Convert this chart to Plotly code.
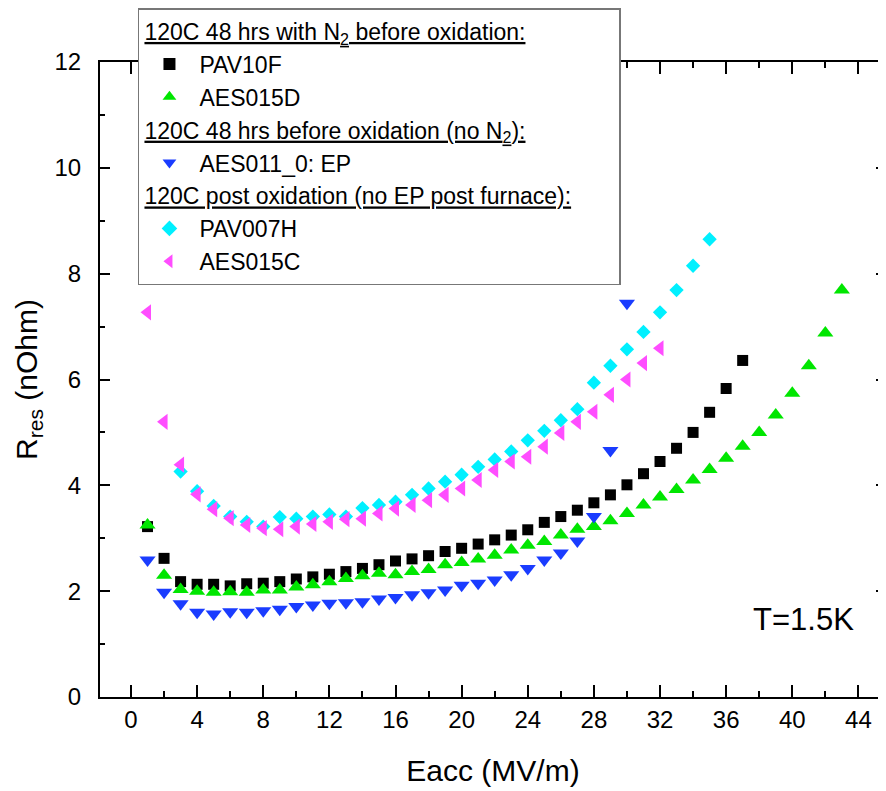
import plotly.graph_objects as go

# ---------------- data ----------------
pav10f_x = list(range(1, 38))
pav10f_y = [3.22, 2.62, 2.18, 2.13, 2.13, 2.10, 2.14, 2.15, 2.18, 2.23,
            2.27, 2.32, 2.37, 2.43, 2.50, 2.57, 2.61, 2.67, 2.75, 2.81,
            2.89, 2.97, 3.06, 3.16, 3.30, 3.41, 3.53, 3.67, 3.82, 4.01,
            4.22, 4.45, 4.70, 5.00, 5.38, 5.83, 6.36]

aes015d_x = list(range(1, 44))
aes015d_y = [3.25, 2.30, 2.03, 2.00, 1.98, 1.99, 1.98, 2.02, 2.02, 2.08,
             2.12, 2.18, 2.24, 2.29, 2.34, 2.31, 2.37, 2.41, 2.50, 2.54,
             2.61, 2.68, 2.78, 2.87, 2.94, 3.06, 3.17, 3.22, 3.33, 3.47,
             3.63, 3.78, 3.92, 4.10, 4.30, 4.51, 4.74, 5.00, 5.33, 5.74,
             6.26, 6.88, 7.69]

aes011_x = list(range(1, 31))
aes011_y = [2.59, 1.98, 1.76, 1.60, 1.57, 1.61, 1.60, 1.63, 1.66, 1.71,
            1.74, 1.77, 1.78, 1.80, 1.85, 1.88, 1.93, 1.97, 2.02, 2.11,
            2.15, 2.21, 2.31, 2.43, 2.59, 2.72, 2.95, 3.41, 4.66, 7.44]

pav007h_x = list(range(3, 36))
pav007h_y = [4.26, 3.89, 3.61, 3.41, 3.31, 3.22, 3.40, 3.37, 3.41, 3.45,
             3.41, 3.57, 3.63, 3.69, 3.82, 3.94, 4.07, 4.20, 4.35, 4.49,
             4.64, 4.85, 5.03, 5.23, 5.44, 5.94, 6.26, 6.57, 6.90, 7.27,
             7.69, 8.15, 8.65]

aes015c_x = list(range(1, 33))
aes015c_y = [7.27, 5.20, 4.39, 3.83, 3.55, 3.38, 3.25, 3.19, 3.17, 3.22,
             3.27, 3.31, 3.36, 3.37, 3.47, 3.56, 3.63, 3.72, 3.82, 3.94,
             4.10, 4.29, 4.45, 4.54, 4.73, 4.99, 5.20, 5.39, 5.71, 6.00,
             6.31, 6.59]

x_ticks = [0, 4, 8, 12, 16, 20, 24, 28, 32, 36, 40, 44]
y_ticks = [0, 2, 4, 6, 8, 10, 12]

group_titles = [
    "<u>120C 48 hrs with N<sub>2</sub> before oxidation:</u>",
    "<u>120C 48 hrs before oxidation (no N<sub>2</sub>):</u>",
    "<u>120C post oxidation (no EP post furnace):</u>" + "&nbsp;" * 6,
]

FONT = "Liberation Sans, Arial, sans-serif"
LEG_FS = 23

fig = go.Figure()

def add(x, y, name, symbol, color, size, group, gtitle=None):
    kw = dict(
        x=x, y=y, name=name, mode="markers",
        marker=dict(symbol=symbol, color=color, size=size, line=dict(width=0)),
        legendgroup=group,
    )
    if gtitle:
        kw["legendgrouptitle"] = dict(text=gtitle, font=dict(size=LEG_FS, color="black", family=FONT))
    fig.add_trace(go.Scatter(**kw))

add(pav10f_x, pav10f_y, "PAV10F", "square", "#000000", 11, "g1", group_titles[0])
add(aes015d_x, aes015d_y, "AES015D", "triangle-up", "#00E600", 14, "g1")
add(aes011_x, aes011_y, "AES011_0: EP", "triangle-down", "#1A3CFF", 14, "g2", group_titles[1])
add(pav007h_x, pav007h_y, "PAV007H", "diamond", "#00F0FF", 11, "g3", group_titles[2])
add(aes015c_x, aes015c_y, "AES015C", "triangle-left", "#FF4DFF", 14, "g3")

fig.add_annotation(x=40.7, y=1.46, xref="x", yref="y", text="T=1.5K",
                   showarrow=False, font=dict(size=31, color="black", family=FONT))

fig.update_layout(
    width=878, height=783,
    margin=dict(l=92, r=0, t=54, b=94, autoexpand=False),
    paper_bgcolor="white", plot_bgcolor="white",
    font=dict(family=FONT, color="black"),
    showlegend=True,
    legend=dict(
        x=0.0483, y=1.085, xanchor="left", yanchor="top",
        bgcolor="white", bordercolor="#777777", borderwidth=1.5,
        font=dict(size=LEG_FS, color="black", family=FONT),
        traceorder="grouped", tracegroupgap=0,
        itemsizing="constant", itemwidth=50,
    ),
    xaxis=dict(
        range=[-1.875, 45.67],
        tickmode="array", tickvals=x_ticks, ticktext=[str(v) for v in x_ticks],
        ticks="inside", ticklen=12, tickwidth=2, tickcolor="black",
        minor=dict(dtick=2, tick0=0, ticks="inside", ticklen=6, tickwidth=2, tickcolor="black"),
        showline=True, linecolor="black", linewidth=2, mirror="ticks",
        showgrid=False, zeroline=False,
        tickfont=dict(size=24, color="black", family=FONT),
        title=dict(text="Eacc (MV/m)", font=dict(size=30, color="black", family=FONT), standoff=28),
        ticklabelstandoff=0,
    ),
    yaxis=dict(
        range=[0, 12],
        tickmode="array", tickvals=y_ticks, ticktext=[str(v) for v in y_ticks],
        ticks="inside", ticklen=10, tickwidth=2, tickcolor="black",
        minor=dict(dtick=1, tick0=0, ticks="inside", ticklen=5, tickwidth=2, tickcolor="black"),
        showline=True, linecolor="black", linewidth=2, mirror="ticks",
        showgrid=False, zeroline=False,
        tickfont=dict(size=24, color="black", family=FONT),
        title=dict(text="R<sub>res</sub> (nOhm)", font=dict(size=30, color="black", family=FONT), standoff=8),
        ticklabelstandoff=12,
    ),
)

fig.write_html("out.html")
